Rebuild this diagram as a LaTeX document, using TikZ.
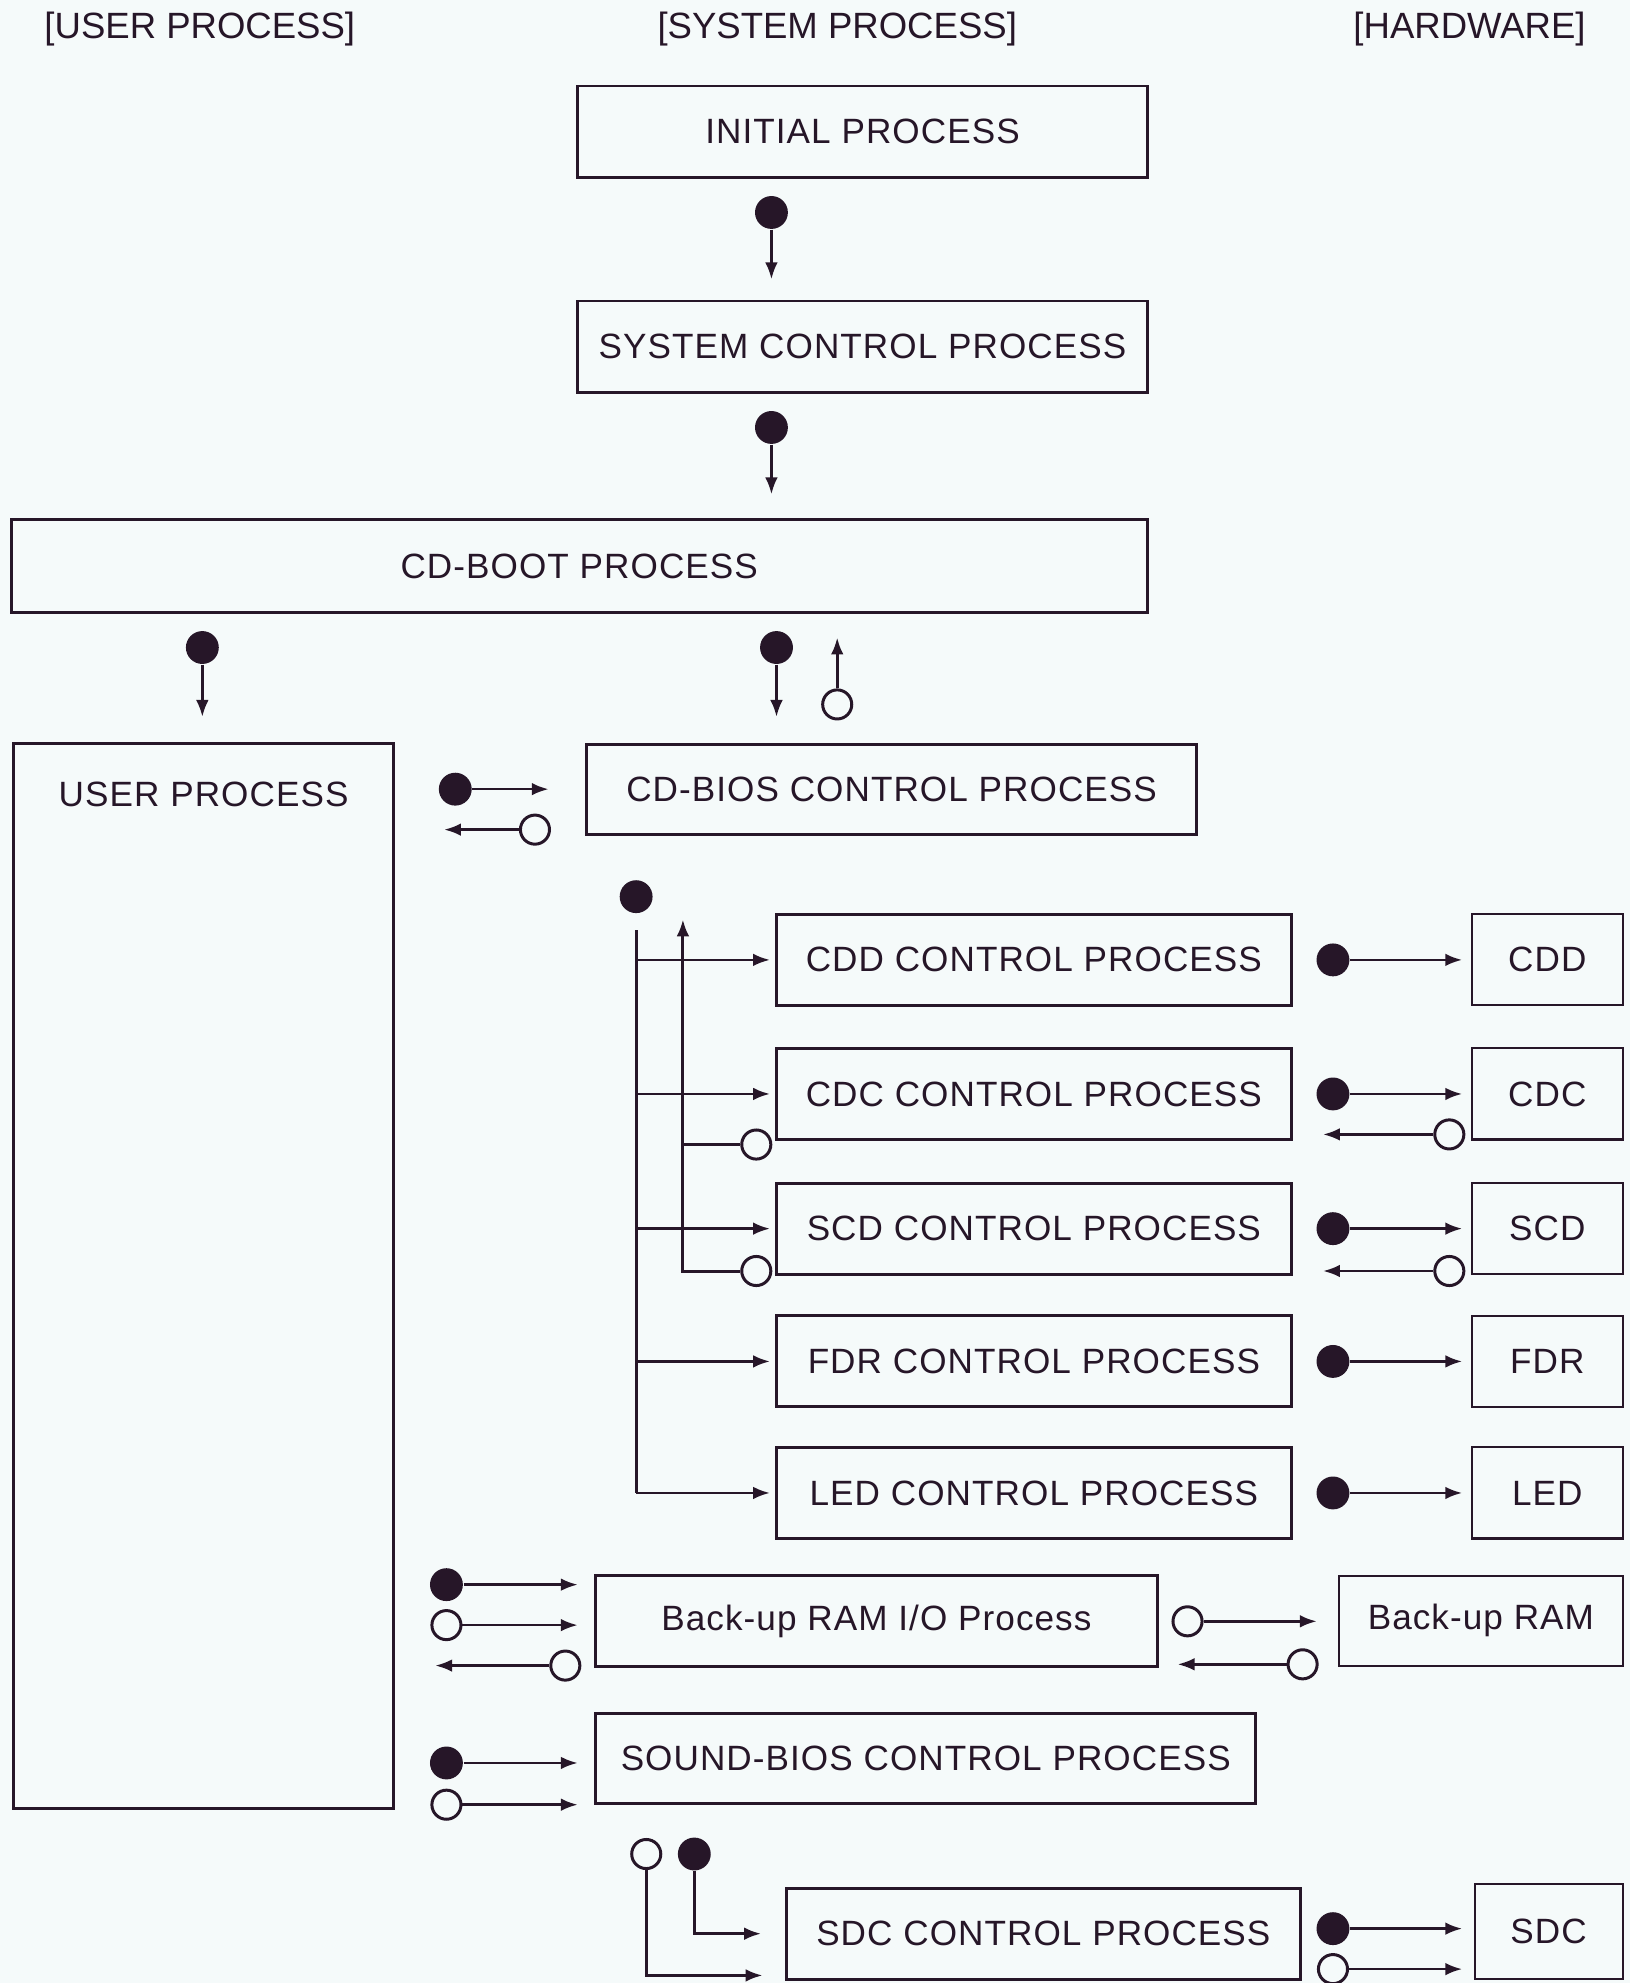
\documentclass[tikz,border=0pt]{standalone}
\usepackage{fontspec}
\setmainfont{Liberation Sans}
\newfontfamily\boxfont{Liberation Sans}[LetterSpace=3]
\usetikzlibrary{arrows.meta}
\newcommand{\pxl}{0.012645cm}
\definecolor{ink}{RGB}{38,22,40}
\definecolor{paper}{RGB}{245,250,250}

\begin{document}
\begin{tikzpicture}
    [x=\pxl, y=-\pxl,
    box/.style 2 args={draw=ink, line width=0.85pt, inner sep=0pt, text=ink,
        minimum width=#1*\pxl, minimum height=#2*\pxl,
        font=\boxfont\fontsize{10}{12}\selectfont},
    hw/.style 2 args={box={#1}{#2}, line width=0.6pt},
    head/.style={inner sep=0pt, text=ink, font=\fontsize{10.4}{12}\selectfont},
    blob/.style={circle, fill=ink, inner sep=0pt, minimum size=26*\pxl},
    hole/.style={circle, draw=ink, fill=paper, line width=0.85pt, inner sep=0pt, minimum size=23*\pxl},
    arr/.style={draw=ink, line width=0.75pt, -{Latex[length=4.8pt,width=3.6pt]}},
    wire/.style={draw=ink, line width=0.85pt}]
        \fill[paper] (0,0) rectangle (1289,1568);
        \useasboundingbox (0,0) rectangle (1289,1568);

        \node[head] (hu) at (158,23) {[USER PROCESS]};
        \node[head] (hs) at (662,23) {[SYSTEM PROCESS]};
        \node[head] (hh) at (1162,23) {[HARDWARE]};

        \node[box={450}{72}] (init) at (682,104) {INITIAL PROCESS};
        \node[box={450}{72}] (sysc) at (682,274) {SYSTEM CONTROL PROCESS};
        \node[box={898}{73}] (boot) at (458,447.5) {CD-BOOT PROCESS};
        \node[box={300}{842}, label={[anchor=north, inner sep=0pt, yshift=-31*\pxl, text=ink,
            font=\boxfont\fontsize{10}{12}\selectfont]north:USER PROCESS}] (user) at (161,1009) {};
        \node[box={482}{71}] (bios) at (705,624.5) {CD-BIOS CONTROL PROCESS};

        \node[blob] (b1) at (610,168) {};
        \draw[arr, shorten >=16*\pxl] (b1) -- (b1 |- sysc.north);
        \node[blob] (b2) at (610,338) {};
        \draw[arr, shorten >=19*\pxl] (b2) -- (b2 |- boot.north);
        \node[blob] (b3) at (160,512) {};
        \draw[arr, shorten >=20*\pxl] (b3) -- (b3 |- user.north);
        \node[blob] (b4) at (614,512) {};
        \draw[arr, shorten >=21*\pxl] (b4) -- (b4 |- bios.north);
        \node[hole] (r1) at (662,557) {};
        \draw[arr, shorten >=19*\pxl] (r1) -- (r1 |- boot.south);

        \node[blob] (b5) at (360,624) {};
        \draw[arr, shorten >=29*\pxl] (b5) -- (b5 -| bios.west);
        \node[hole] (r5) at (423,656) {};
        \draw[arr, shorten >=39*\pxl] (r5) -- (r5 -| user.east);

        \node[blob] (bb) at (503,709) {};
        \foreach \n/\y in {CDD/759, CDC/865, SCD/971.5, FDR/1076.5, LED/1180.5} {
            \node[box={407}{72}] (\n) at (817.5,\y) {\n\ CONTROL PROCESS};
            \node[hw={119}{72}] (hw\n) at (1223.5,\y) {\n};
            \node[blob] (s\n) at (1054,\y) {};
            \draw[arr, shorten >=7*\pxl] (s\n) -- (hw\n);
            \draw[arr, shorten >=4*\pxl] (bb |- \n) -- (\n);
        }
        \draw[wire, shorten <=13*\pxl] (bb) -- (bb |- LED);

        \coordinate (up) at (540,727);
        \node[hole] (lCDC) at (598,905) {};
        \node[hole] (lSCD) at (598,1005) {};
        \draw[wire] (lCDC) -- (lCDC -| up);
        \draw[arr, line width=0.85pt] (lSCD) -| (up);
        \node[hole] (rCDC) at (1146,897) {};
        \node[hole] (rSCD) at (1146,1005) {};
        \draw[arr, shorten >=24*\pxl] (rCDC) -- (rCDC -| CDC.east);
        \draw[arr, shorten >=24*\pxl] (rSCD) -- (rSCD -| SCD.east);

        \node[box={444}{72}] (bram) at (693,1282) {Back-up RAM I/O Process};
        \node[hw={224}{71}] (hwbram) at (1171,1281.5) {Back-up RAM};
        \node[blob] (b6) at (353,1253) {};
        \node[hole] (r6) at (353,1285) {};
        \node[hole] (r7) at (447,1317) {};
        \draw[arr, shorten >=13*\pxl] (b6) -- (b6 -| bram.west);
        \draw[arr, shorten >=13*\pxl] (r6) -- (r6 -| bram.west);
        \draw[arr, shorten >=32*\pxl] (r7) -- (r7 -| user.east);
        \node[hole] (r8) at (939,1282) {};
        \node[hole] (r9) at (1030,1316) {};
        \draw[arr, shorten >=17*\pxl] (r8) -- (r8 -| hwbram.west);
        \draw[arr, shorten >=15*\pxl] (r9) -- (r9 -| bram.east);

        \node[box={522}{71}] (snd) at (732,1390.5) {SOUND-BIOS CONTROL PROCESS};
        \node[blob] (b10) at (353,1394) {};
        \node[hole] (r10) at (353,1427) {};
        \draw[arr, shorten >=13*\pxl] (b10) -- (b10 -| snd.west);
        \draw[arr, shorten >=13*\pxl] (r10) -- (r10 -| snd.west);

        \node[box={406}{72}] (SDC) at (825,1529) {SDC CONTROL PROCESS};
        \node[hw={117}{75}] (hwSDC) at (1224.5,1527.5) {SDC};
        \node[hole] (r11) at (511,1466) {};
        \node[blob] (b11) at (549,1466) {};
        \coordinate (s2) at (603,1562);
        \draw[arr, line width=0.85pt, shorten >=19*\pxl] (b11) |- (SDC.west);
        \draw[arr, line width=0.85pt] (r11) |- (s2);
        \node[blob] (b12) at (1054,1525) {};
        \node[hole] (r12) at (1054,1557) {};
        \draw[arr, shorten >=9*\pxl] (b12) -- (b12 -| hwSDC.west);
        \draw[arr, shorten >=9*\pxl] (r12) -- (r12 -| hwSDC.west);
\end{tikzpicture}
\end{document}
